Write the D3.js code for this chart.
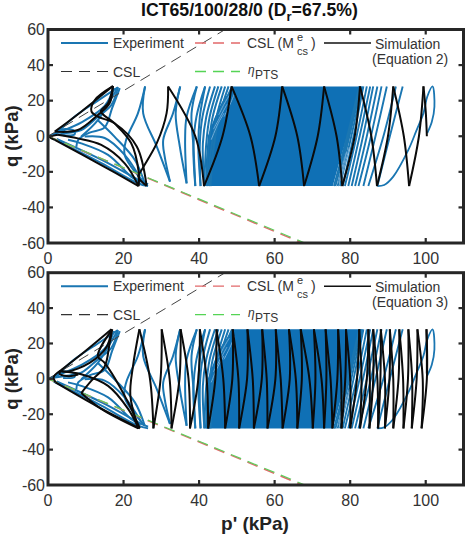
<!DOCTYPE html>
<html><head><meta charset="utf-8">
<script src="https://cdnjs.cloudflare.com/ajax/libs/d3/7.8.5/d3.min.js"></script>
<style>html,body{margin:0;padding:0;background:#fff}svg{display:block;font-family:"Liberation Sans",Arial,sans-serif}</style>
</head><body><svg id="c" width="474" height="534"></svg>
<script>
const xTicks = [0,20,40,60,80,100];
const yTicks = [-60,-40,-20,0,20,40,60];
const titleText = "ICT65/100/28/0 (D";
const ptsRedLine = [[0,0],[67.3,-60]];
const ptsGreenLine = [[0,0],[68,-60]];
const cslLine = [[0,0],[46.9,60]];

// Core of the experiment band where the loops merge: top edge, right edge, bottom edge, bowed left edge
const expSolidBand = [[49,28],[82.4,28],[80.8,14],[79.2,0],[77.2,-14],[75.4,-28],[42,-28],[41.8,-14],[42.3,0],[44,10],[46,19]];
// Faint gaps between loops still visible on the left of the band
const expBandStreaks = [
 [[45.2,12],[46.6,18],[48,23]],
 [[43.8,4],[45.6,11],[47.4,18]],
 [[43.2,-2],[45,7],[46.6,13]],
 [[46.6,11],[48,17],[49.4,24]],
 [[77.6,-24],[78.6,-16],[79.8,-6]],
 [[77,-26],[77.8,-18],[79,-9]]
];

// Experiment: upper right spiral
const expStart = [[100.4,1.8],[101.6,8],[102.3,16.6],[101.8,28],[100.4,22.2],[99.4,13],[97.5,3],[95.4,-7.7],[91.4,-22.7],[89,-27.4],[87.2,-28]];
// Experiment: straight "/" loops at the right edge of the band
const expRightBottoms = [87.2,84.8,83.5,82.2,81.3,80.4,79.5,78.6,78,77.3,76.7,76.1,75.7];
const expRightMids = [90.5,88.8,86.7,85.5,84.4,83.4,82.5,81.7,80.9,80.3,79.8,79.5,79.2];
const expRightTops = [93.9,92.1,89.7,88.3,87.2,86.1,85.3,84.4,83.5,83.2,82.9,82.6,82.4];
// Experiment: bowed loops at the left edge of the band
const expLeftLimbs = [
 [[48.7,28],[46,14],[44.4,2],[43,-28]],
 [[47.8,28],[45.3,11],[44,-4],[42.6,-28]],
 [[46.9,28],[44.6,11],[43.4,-4],[42,-28]],
 [[46,28],[43.6,11],[42.6,-4],[41.8,-28]],
 [[45.1,28],[42.8,11],[41.9,-4],[41.4,-28]],
 [[44.2,28],[41.9,11],[41,-4],[41.4,-28]],
 [[42.9,28],[40.9,11],[40.2,-4],[40.4,-28]],
 [[41.6,28],[40.2,11],[39.8,-5.8],[40.4,-28]],
 [[41.6,28],[39.3,11],[38.5,-5.8],[39,-28]],
 [[39.4,28],[38,12.9],[38.5,-5.8],[39,-28]],
 [[39.4,28],[36.7,11],[36.3,-2],[36.7,-26.5]],
 [[35,28],[33.8,12.9],[34.9,-5.8],[36.7,-26.5]],
 [[35,28],[33.1,12.9],[30.5,-2],[30.9,-11.5],[32.3,-25.5]],
 [[25.7,28],[25.2,12.9],[28.8,-5.8],[32.3,-25.5]],
 [[25.7,28],[23.8,12.9],[20.7,-2],[20.3,-10.5],[25.6,-26.4]]
];
// Experiment: loops close to the origin
const expOriginLimbs = [
 [[1.8,0.7],[7,11],[13.2,20],[18.5,27.5]],
 [[18.5,27.5],[16.8,17.6],[13.2,11],[8.8,3.5],[4.4,1.6],[1.8,0.7]],
 [[1.5,-1.5],[14,-15],[23.8,-26.4],[26.5,-28]],
 [[2.3,-1.5],[14.5,-13.6],[24.7,-25.4],[26.5,-27]],
 [[13.2,9],[17.6,-0.2],[23,-13.3],[25.6,-26.4]],
 [[9.7,-0.2],[15,-1],[20.3,-10.5],[24.7,-24.6]],
 [[5.3,-2],[8.8,-4],[15.9,-10.5],[22,-22.7],[24.5,-26]],
 [[8.8,-0.2],[13.2,9],[16.8,21.3],[18.5,27.5]],
 [[7.5,-6],[8,-2],[11,2],[15,5],[17,16],[19,27]],
 [[2,2],[4,4],[7,3],[7,1],[4,0.5]],
 [[0,0],[2.5,2],[9,8],[15,17],[17.5,27]]
];

// Simulation with Equation 2
const sim1Limbs = [
 [[100.3,0],[100,14],[99.4,28]],
 [[99.4,28],[98.2,0],[95.6,-28]],
 [[95.6,-28],[94.2,0],[91.4,28]],
 [[91.4,28],[90,0],[87.1,-28]],
 [[87.1,-28],[85.6,0],[82.6,28]],
 [[82.6,28],[81.2,0],[77.9,-28]],
 [[77.9,-28],[76.4,0],[73.1,28]],
 [[73.1,28],[71.4,0],[67.8,-28]],
 [[67.8,-28],[66,0],[62,28]],
 [[62,28],[60.2,0],[55.9,-28]],
 [[55.9,-28],[53.6,0],[48.6,28]],
 [[48.6,28],[46.2,0],[41.3,-28]],
 [[41.3,-28],[39,0],[31.8,28]],
 [[31.8,28],[31.4,13],[28.8,-3.9],[24.8,-18.9],[23.9,-22.7],[26.1,-27.9]],
 [[26.1,-27.9],[23.5,-5.8],[17.6,7.3],[13.2,11],[11.5,14],[12.4,20.4],[17.2,28.2]],
 [[17.2,28.2],[16.3,18.5],[13.2,12],[7.9,3.5],[1.8,2.6]],
 [[1.8,2.6],[8.8,13.8],[17.2,28.2]],
 [[17.2,28.2],[15.9,18.5],[14,14],[17.6,7.3],[22,-3.8],[24,-20],[24,-28]],
 [[24,-28],[14.1,-16.2],[1.8,-2]],
 [[2.6,0.8],[7.9,-1.2],[14.1,-4.9],[20.3,-15.2],[24,-28]],
 [[1.8,-2],[0.5,-0.5],[2.6,0.8]]
];

// Simulation with Equation 3
const sim2Limbs = [
 [[100.3,3],[100.3,14],[100.2,28]],
 [[100.2,28],[100.3,0],[98.9,-28]],
 [[98.9,-28],[99.2,0],[97.8,28]],
 [[97.8,28],[97.6,0],[96.3,-28]],
 [[96.3,-28],[96.4,0],[95.4,28]],
 [[95.4,28],[95.3,0],[94.1,-28]],
 [[94.1,-28],[94,0],[93,28]],
 [[93,28],[92.8,0],[91.4,-28]],
 [[91.4,-28],[91.4,0],[90.5,28]],
 [[90.5,28],[90.4,0],[89.2,-28]],
 [[89.2,-28],[89.2,0],[88.1,28]],
 [[88.1,28],[88,0],[87.4,-28]],
 [[87.4,-28],[87.2,0],[86.1,28]],
 [[86.1,28],[86.1,0],[85.1,-28]],
 [[85.1,-28],[85.2,0],[84.8,28]],
 [[84.8,28],[84.4,0],[82.6,-28]],
 [[82.6,-28],[83,0],[82.4,28]],
 [[82.4,28],[81.8,0],[80,-28]],
 [[80,-28],[80,0],[78.9,28]],
 [[78.9,28],[78.7,0],[77.7,-28]],
 [[77.7,-28],[77.6,0],[76.8,28]],
 [[76.8,28],[76.6,0],[75.3,-28]],
 [[75.3,-28],[74.8,0],[73.5,28]],
 [[73.5,28],[73.7,0],[73.1,-28]],
 [[73.1,-28],[72.4,0],[70.4,28]],
 [[70.4,28],[70.8,0],[70.1,-28]],
 [[70.1,-28],[69.2,0],[66.9,28]],
 [[66.9,28],[67.2,0],[66,-28]],
 [[66,-28],[65.6,0],[63.8,28]],
 [[63.8,28],[64,0],[62.1,-28]],
 [[62.1,-28],[61.6,0],[60.3,28]],
 [[60.3,28],[60.2,0],[58.1,-28]],
 [[58.1,-28],[57.9,0],[56.7,28]],
 [[56.7,28],[56.6,0],[54.5,-28]],
 [[54.5,-28],[54.2,0],[52.8,28]],
 [[52.8,28],[52.7,0],[50.6,-28]],
 [[50.6,-28],[50.4,0],[48.9,28]],
 [[48.9,28],[48.8,0],[46.9,-28]],
 [[46.9,-28],[46.4,0],[44.6,28]],
 [[44.6,28],[44.3,0],[42.4,-28]],
 [[42.4,-28],[42,0],[40.2,28]],
 [[40.2,28],[39.8,0],[37.6,-28]],
 [[37.6,-28],[37.2,0],[35.1,28]],
 [[35.1,28],[34.8,0],[32.7,-28]],
 [[32.7,-28],[32.2,0],[30.1,28]],
 [[30.1,28],[29.8,0],[27.9,-28]],
 [[27.9,-28],[27,0],[24.2,28]],
 [[24.2,28],[22.5,7.2],[21.8,-9.5],[23.9,-28]],
 [[23.9,-28],[14.1,-17],[8.8,-8]],
 [[8.8,-8],[11.5,-1],[15,7],[16.3,20],[17,28]],
 [[17,28],[13.2,12.9],[15,9],[21.2,-13.3],[24.3,-28]],
 [[24.3,-28],[13,-15.5],[2,-2]],
 [[2,-2],[1.5,1],[3.5,5]],
 [[3.5,5],[9.5,15],[16.8,28]],
 [[16.8,28],[15.5,18],[11,9],[5,4],[3.1,4.5]],
 [[3.1,4.5],[8.8,2.6],[15.9,-4],[21.2,-17],[24,-28]],
 [[4,5.5],[3,3],[5.5,1.5],[8,2.5]]
];

const legendExperiment = "Experiment", legendCsl = "CSL", legendSim = "Simulation";
const panels = [
 {top:29.5, bottom:243, sim:sim1Limbs, eq:"(Equation 2)"},
 {top:272.7, bottom:485, sim:sim2Limbs, eq:"(Equation 3)"}
];

const svg = d3.select("#c");
const BLUE = "#1a76b2", FILL = "#0f70b5", INK = "#333";
const x = d3.scaleLinear().domain([0,110]).range([48,463.5]);
const smooth = (y) => d3.line().x(d=>x(d[0])).y(d=>y(d[1])).curve(d3.curveCatmullRom.alpha(0.5));
const straight = (y) => d3.line().x(d=>x(d[0])).y(d=>y(d[1]));

panels.forEach((P,i)=>{
  const y = d3.scaleLinear().domain([-60,60]).range([P.bottom,P.top]);
  const id = "clip"+i;
  svg.append("clipPath").attr("id",id).append("rect")
    .attr("x",x(0)).attr("y",P.top).attr("width",x(110)-x(0)).attr("height",P.bottom-P.top);
  const g = svg.append("g").attr("clip-path",`url(#${id})`);
  const line = smooth(y), lin = straight(y);
  const draw = (d,color,w,gen) => g.append("path").attr("d",gen(d)).attr("fill","none")
     .attr("stroke",color).attr("stroke-width",w).attr("stroke-linejoin","round").attr("stroke-linecap","butt");

  // Experiment
  g.append("path").attr("d",lin(expSolidBand)+"Z").attr("fill",FILL);
  expLeftLimbs.concat(expOriginLimbs).forEach(l=>draw(l,BLUE,2,line));
  draw(expStart,BLUE,1.8,line);
  expRightTops.forEach((t,k)=>{
    draw([[expRightBottoms[k],-28],[expRightMids[k],0],[t,28]],BLUE,1.9,line);
  });
  expBandStreaks.forEach(l=>draw(l,"#6fabd8",1,line));

  // Reference lines
  const dash = (d,c,w,da)=>g.append("path").attr("d",lin(d)).attr("fill","none").attr("stroke",c).attr("stroke-width",w).attr("stroke-dasharray",da);
  dash(cslLine,"#444",1,"11 7");
  dash(ptsRedLine,"#e2686a",1.5,"11 7");
  dash(ptsGreenLine,"#5ecf5e",1.2,"11 7");

  // Simulation
  P.sim.forEach(l=>draw(l,"#0b0b0b",2,line));

  // Frame & ticks
  const tick=(x1,y1,x2,y2)=>svg.append("line").attr("x1",x1).attr("y1",y1).attr("x2",x2).attr("y2",y2).attr("stroke","#2a2a2a").attr("stroke-width",2.2);
  xTicks.forEach(v=>{ if(v>0){tick(x(v),P.bottom,x(v),P.bottom-5);tick(x(v),P.top,x(v),P.top+5);}
    svg.append("text").attr("x",x(v)).attr("y",P.bottom+21).attr("text-anchor","middle").attr("font-size",16).attr("fill",INK).text(v);});
  yTicks.forEach(v=>{ if(v>-60&&v<60){tick(x(0),y(v),x(0)+5,y(v));tick(x(110),y(v),x(110)-5,y(v));}
    svg.append("text").attr("x",45).attr("y",y(v)+5.5).attr("text-anchor","end").attr("font-size",16).attr("fill",INK).text(v);});
  svg.append("rect").attr("x",x(0)).attr("y",P.top).attr("width",x(110)-x(0)).attr("height",P.bottom-P.top)
     .attr("fill","none").attr("stroke","#262626").attr("stroke-width",3);

  // Legend
  const ly1=P.top+13.5, ly2=P.top+42;
  const leg=(x1,x2,yy,c,da,w)=>svg.append("line").attr("x1",x1).attr("x2",x2).attr("y1",yy).attr("y2",yy).attr("stroke",c).attr("stroke-width",w).attr("stroke-dasharray",da);
  const txt=(tx,ty,s,fs)=>svg.append("text").attr("x",tx).attr("y",ty).attr("font-size",fs||14).attr("fill",INK).text(s);
  leg(61,108,ly1,BLUE,null,2); txt(113,ly1+5,legendExperiment);
  leg(61,108,ly2,"#333","11 7",1.2); txt(113,ly2+5,legendCsl);
  leg(195,240,ly1,"#e2686a","11 7",1.3);
  txt(247,ly1+5,"CSL (M");
  txt(297,ly1-2,"e",11); txt(297,ly1+12,"cs",11); txt(311,ly1+5,")");
  leg(195,240,ly2,"#55d455","11 7",1.3);
  svg.append("text").attr("x",248).attr("y",ly2+2).attr("font-size",12).attr("font-style","italic").attr("fill",INK).text("η");
  txt(255,ly2+7,"PTS",12);
  leg(324,371,ly1,"#111",null,1.5);
  txt(375,ly1+6,legendSim);
  txt(372,ly1+21,P.eq);

  // y label
  svg.append("text").attr("transform",`translate(18,${(P.top+P.bottom)/2}) rotate(-90)`).attr("text-anchor","middle")
     .attr("font-size",18.5).attr("font-weight","bold").attr("fill","#222").text("q (kPa)");
});

// Title
const t = svg.append("text").attr("x",141).attr("y",16).attr("font-size",17.7).attr("font-weight","bold").attr("fill","#111");
t.append("tspan").text(titleText);
t.append("tspan").attr("dy",5).attr("font-size",13).text("r");
t.append("tspan").attr("dy",-5).text("=67.5%)");
// x label
svg.append("text").attr("x",255).attr("y",530).attr("text-anchor","middle").attr("font-size",19).attr("font-weight","bold").attr("fill","#222").text("p' (kPa)");
</script></body></html>
